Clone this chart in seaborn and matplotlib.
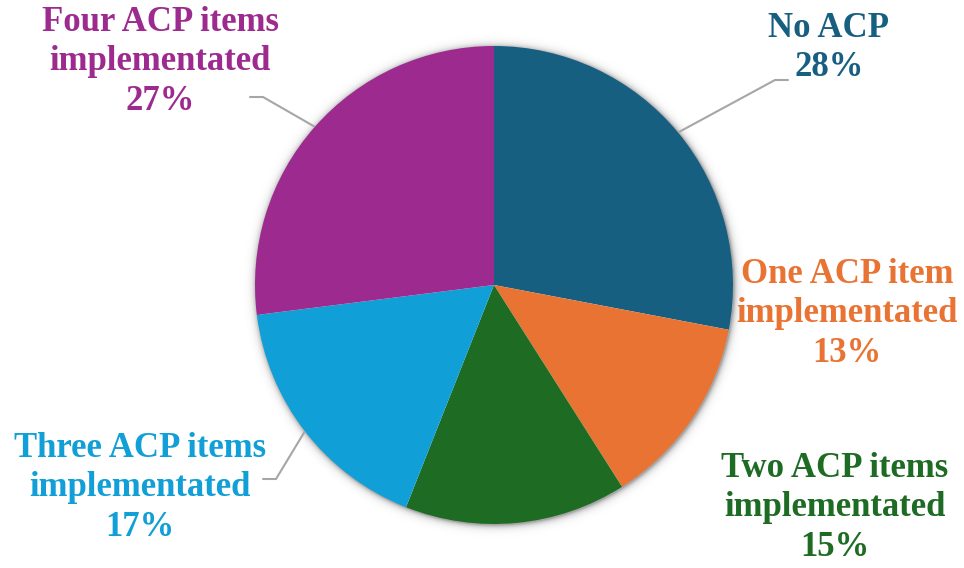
import numpy as np
import matplotlib
matplotlib.use("Agg")
import matplotlib.pyplot as plt
import seaborn as sns

# ACP implementation shares
categories = ["No ACP", "One ACP item\nimplementated", "Two ACP items\nimplementated",
              "Three ACP items\nimplementated", "Four ACP items\nimplementated"]
shares = [28, 13, 15, 17, 27]
colors = ["#175f80", "#e97333", "#1e6b24", "#109fd6", "#9d2a8e"]

sns.set_theme(style="white")
plt.rcParams["font.family"] = ["Liberation Serif", "DejaVu Serif"]

W, H = 964, 568
fig = plt.figure(figsize=(W / 100, H / 100), dpi=100)
ax = fig.add_axes([0, 0, 1, 1])
ax.set_xlim(0, W)
ax.set_ylim(0, H)
ax.set_aspect("equal")
ax.axis("off")

cx, cy, r = 494, 283, 239

# soft halo around the pie
gx, gy = np.meshgrid(np.arange(W) + 0.5, np.arange(H) + 0.5)
d = np.hypot(gx - cx - 1, gy - cy + 1) - r
halo = np.where(d > -2, np.exp(-np.clip(d, 0, None) / 3.0) * 0.35, 0)
rgba = np.zeros((H, W, 4))
rgba[..., 3] = halo
ax.imshow(rgba, extent=(0, W, 0, H), origin="lower", zorder=0, interpolation="bilinear")

wedges, _ = ax.pie(shares, colors=sns.color_palette(colors), startangle=90, counterclock=False,
                   center=(cx, cy), radius=r, wedgeprops=dict(linewidth=0), frame=True)
ax.set_xlim(0, W)
ax.set_ylim(0, H)
ax.axis("off")

# label centres (x, middle y) in pixel rows from the top
label_pos = [(829, 48), (847, 314), (835, 508), (140, 488), (160, 62)]
for cat, val, col, (lx, ly) in zip(categories, shares, colors, label_pos):
    ax.text(lx, H - ly, f"{cat}\n{val}%", color=col, ha="center", va="center",
            fontsize=25, fontweight="bold", linespacing=1.27, zorder=5)

# leader lines from wedge midpoints to their labels
leaders = {0: [(775, 80), (788, 80)], 3: [(276, 479), (263, 479)], 4: [(263, 97), (250, 97)]}
for i, pts in leaders.items():
    w = wedges[i]
    mid = np.deg2rad((w.theta1 + w.theta2) / 2)
    sx, sy = cx + (r + 1) * np.cos(mid), cy + (r + 1) * np.sin(mid)
    xs = [sx] + [p[0] for p in pts]
    ys = [sy] + [H - p[1] for p in pts]
    ax.plot(xs, ys, color="#a6a6a6", lw=1.5, zorder=4, solid_joinstyle="miter")

fig.savefig("out.png", dpi=100)
